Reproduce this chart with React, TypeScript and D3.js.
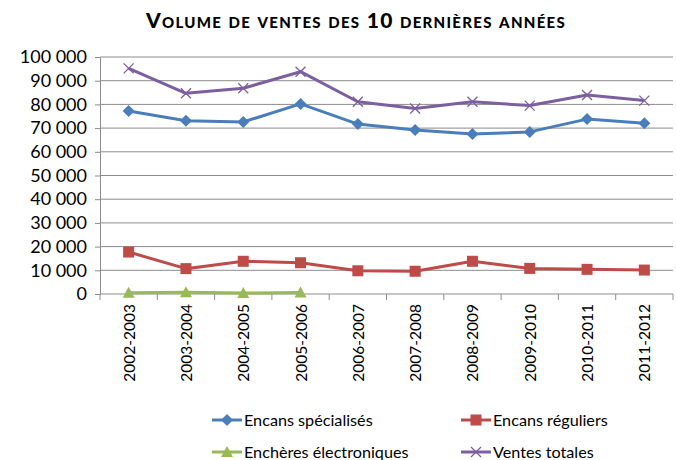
import React, { useRef, useEffect } from 'react'
import * as d3 from 'd3'

const years = ['2002-2003', '2003-2004', '2004-2005', '2005-2006', '2006-2007', '2007-2008', '2008-2009', '2009-2010', '2010-2011', '2011-2012']
const specialises = [77200, 73100, 72600, 80200, 71700, 69200, 67500, 68400, 73800, 72000]
const reguliers = [17700, 10700, 13800, 13200, 9800, 9600, 13800, 10800, 10400, 10100]
const electroniques = [500, 700, 400, 600]
const totales = [95200, 84700, 86800, 93800, 81100, 78300, 81100, 79500, 84000, 81600]
const yTicks = [0, 10000, 20000, 30000, 40000, 50000, 60000, 70000, 80000, 90000, 100000]

const series = [
  { name: 'Encans spécialisés', values: specialises, color: '#4a7ebb', marker: 'diamond' },
  { name: 'Encans réguliers', values: reguliers, color: '#be4b48', marker: 'square' },
  { name: 'Enchères électroniques', values: electroniques, color: '#98b954', marker: 'triangle' },
  { name: 'Ventes totales', values: totales, color: '#7d5fa0', marker: 'x' },
]

const FONT = 'Lato, "Open Sans", sans-serif'

export default function App() {
  const ref = useRef<SVGSVGElement>(null)

  useEffect(() => {
    const svg = d3.select(ref.current)
    svg.selectAll('*').remove()

    const left = 100, right = 673, top = 57, bottom = 294
    const x = d3.scaleBand().domain(years).range([left, right])
    const y = d3.scaleLinear().domain([0, 100000]).range([bottom, top])
    const fmt = (v: number) => d3.format(',')(v).replace(/,/g, ' ')

    svg.append('text')
      .attr('x', 356).attr('y', 28)
      .attr('text-anchor', 'middle')
      .attr('font-family', FONT).attr('font-weight', 900)
      .attr('font-size', 21).attr('font-variant', 'small-caps')
      .attr('letter-spacing', 1.3)
      .text('Volume de ventes des 10 dernières années')

    // gridlines
    svg.append('g').selectAll('line').data(yTicks.slice(1)).join('line')
      .attr('x1', left).attr('x2', right)
      .attr('y1', d => y(d)).attr('y2', d => y(d))
      .attr('stroke', '#8c8c8c').attr('stroke-width', 1)

    // y axis
    const yAxis = svg.append('g').attr('transform', `translate(${left},0)`)
      .call(d3.axisLeft(y).tickValues(yTicks).tickSize(5).tickSizeOuter(0).tickFormat(d => fmt(d as number)))
    yAxis.select('.domain').attr('stroke', '#8c8c8c')
    yAxis.selectAll('line').attr('stroke', '#8c8c8c')
    yAxis.selectAll('text').attr('font-family', FONT).attr('font-size', 18).attr('fill', '#000').attr('x', -13)

    // x axis
    const xg = svg.append('g').attr('transform', `translate(0,${bottom})`)
    xg.append('line').attr('x1', left).attr('x2', right).attr('stroke', '#8c8c8c')
    xg.selectAll('line.tk').data(d3.range(years.length + 1)).join('line')
      .attr('class', 'tk')
      .attr('x1', i => left + i * x.bandwidth()).attr('x2', i => left + i * x.bandwidth())
      .attr('y1', 0).attr('y2', 6).attr('stroke', '#8c8c8c')
    xg.selectAll('text').data(years).join('text')
      .attr('transform', d => `translate(${(x(d) ?? 0) + x.bandwidth() / 2 + 6},${10}) rotate(-90)`)
      .attr('text-anchor', 'end')
      .attr('font-family', FONT).attr('font-size', 15.5)
      .text(d => d)

    const line = d3.line<number>().x((_, i) => (x(years[i]) ?? 0) + x.bandwidth() / 2).y(d => y(d))

    const drawMarker = (g: any, type: string, color: string, cx: number, cy: number) => {
      if (type === 'diamond') {
        g.append('path').attr('d', `M${cx},${cy - 6}L${cx + 6},${cy}L${cx},${cy + 6}L${cx - 6},${cy}Z`).attr('fill', color)
      } else if (type === 'square') {
        g.append('rect').attr('x', cx - 5.5).attr('y', cy - 5.5).attr('width', 11).attr('height', 11).attr('fill', color)
      } else if (type === 'triangle') {
        g.append('path').attr('d', `M${cx},${cy - 6}L${cx + 6},${cy + 5}L${cx - 6},${cy + 5}Z`).attr('fill', color)
      } else {
        g.append('path').attr('d', `M${cx - 5},${cy - 5}L${cx + 5},${cy + 5}M${cx - 5},${cy + 5}L${cx + 5},${cy - 5}`)
          .attr('stroke', color).attr('stroke-width', 1.3)
      }
    }

    series.forEach(s => {
      const g = svg.append('g')
      g.append('path').datum(s.values).attr('d', line)
        .attr('fill', 'none').attr('stroke', s.color).attr('stroke-width', 3).attr('stroke-linejoin', 'round')
      s.values.forEach((v, i) => drawMarker(g, s.marker, s.color, (x(years[i]) ?? 0) + x.bandwidth() / 2, y(v)))
    })

    // legend
    series.forEach((s, i) => {
      const lx = i % 2 === 0 ? 212 : 461
      const ly = i < 2 ? 420 : 452
      const g = svg.append('g')
      g.append('line').attr('x1', lx).attr('x2', lx + 30).attr('y1', ly).attr('y2', ly)
        .attr('stroke', s.color).attr('stroke-width', 3)
      drawMarker(g, s.marker, s.color, lx + 15, ly)
      g.append('text').attr('x', lx + 32).attr('y', ly + 5.5)
        .attr('font-family', FONT).attr('font-size', 16.2).text(s.name)
    })
  }, [])

  return (
    <svg ref={ref} width={676} height={460} style={{ position: 'absolute', left: 0, top: 0, background: '#fff' }} />
  )
}
